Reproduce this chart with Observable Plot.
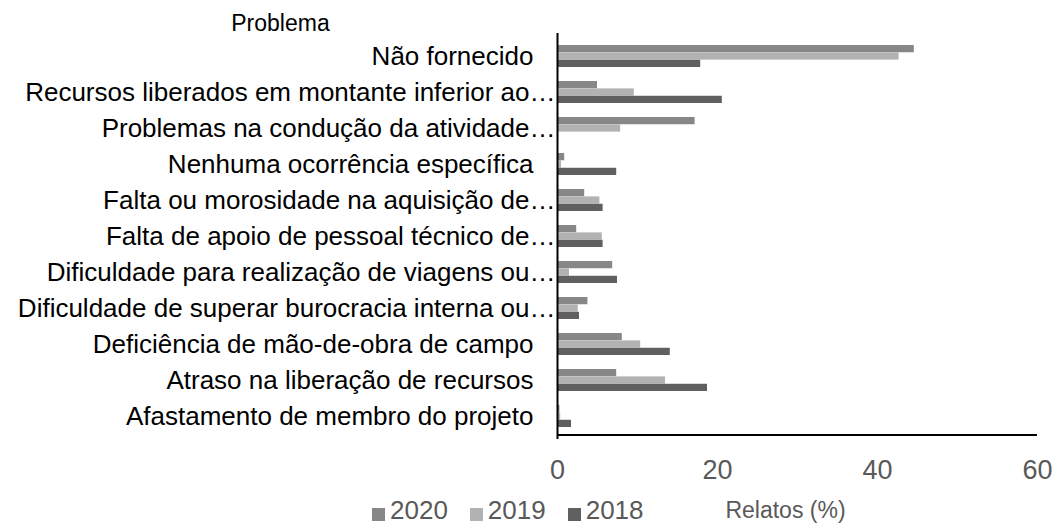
<!DOCTYPE html>
<html>
<head>
<meta charset="utf-8">
<script src="https://cdn.jsdelivr.net/npm/d3@7"></script>
<script src="https://cdn.jsdelivr.net/npm/@observablehq/plot@0.6"></script>
<style>
  html, body { margin: 0; padding: 0; background: #fff; }
  #chart { position: relative; width: 1052px; height: 524px; font-family: "Liberation Sans", Arial, sans-serif; }
  #legend { position: absolute; left: 372px; top: 496px; display: flex; gap: 22px; font-size: 26px; color: #595959; line-height: 28px; }
  #legend span.item { display: inline-flex; align-items: flex-end; }
  #legend span.sw { display: inline-block; width: 13px; height: 13px; margin-right: 5px; margin-bottom: 3px; }
</style>
</head>
<body>
<div id="chart"></div>
<script>
const categories = [
  "Não fornecido",
  "Recursos liberados em montante inferior ao…",
  "Problemas na condução da atividade…",
  "Nenhuma ocorrência específica",
  "Falta ou morosidade na aquisição de…",
  "Falta de apoio de pessoal técnico de…",
  "Dificuldade para realização de viagens ou…",
  "Dificuldade de superar burocracia interna ou…",
  "Deficiência de mão-de-obra de campo",
  "Atraso na liberação de recursos",
  "Afastamento de membro do projeto"
];
const years = ["2020", "2019", "2018"];
const values2020 = [44.6, 5.0, 17.2, 0.9, 3.4, 2.4, 6.9, 3.8, 8.1, 7.4, 0.3];
const values2019 = [42.7, 9.6, 7.9, 0.5, 5.3, 5.6, 1.5, 2.6, 10.4, 13.5, 0.4];
const values2018 = [17.9, 20.6, 0, 7.4, 5.7, 5.7, 7.5, 2.75, 14.1, 18.75, 1.75];
const xTicks = [0, 20, 40, 60];
const colors = ["#878787", "#b2b2b2", "#606060"];
const xLabel = "Relatos (%)";
const yLabel = "Problema";

const seriesValues = [values2020, values2019, values2018];
const data = [];
years.forEach((yr, k) => categories.forEach((c, i) => data.push({category: c, year: yr, value: seriesValues[k][i]})));

const W = 1052, H = 524, mT = 33, mB = 85, mL = 557, mR = 15;
const padInner = 0.4, padOuter = 0.2;
const step = (H - mT - mB) / (categories.length - padInner + 2 * padOuter);
const bw = step * (1 - padInner);
const h = bw / 3;

const truncated = new Set(categories.filter(c => c.endsWith("…")));

const barMarks = years.map((yr, k) => Plot.barX(data.filter(d => d.year === yr), {
  x: "value", y: "category", fill: colors[k],
  insetTop: k * h, insetBottom: (2 - k) * h
}));

const chart = Plot.plot({
  width: W, height: H,
  marginTop: mT, marginBottom: mB, marginLeft: mL, marginRight: mR,
  style: {fontFamily: "'Liberation Sans', Arial, sans-serif", background: "#fff"},
  x: {domain: [0, 60], ticks: xTicks},
  y: {domain: categories, paddingInner: padInner, paddingOuter: padOuter},
  marks: [
    ...barMarks,
    Plot.ruleX([0], {stroke: "#000", strokeWidth: 2}),
    Plot.ruleY([categories[categories.length - 1]], {dy: step / 2, stroke: "#000", strokeWidth: 2}),
    Plot.axisX({ticks: xTicks, tickSize: 0, tickPadding: 20, fontSize: 27, color: "#595959", label: null}),
    Plot.axisY({tickSize: 0, tickPadding: 24, fontSize: 26, color: "#000", label: null,
      tickFormat: d => truncated.has(d) ? "" : d}),
    Plot.axisY({tickSize: 0, tickPadding: 2, fontSize: 26, color: "#000", label: null,
      tickFormat: d => truncated.has(d) ? d : ""}),
    Plot.text([yLabel], {frameAnchor: "top-left", dx: -277, dy: -10, fontSize: 23, fill: "#000", textAnchor: "middle", lineAnchor: "middle"}),
    Plot.text([xLabel], {frameAnchor: "bottom", dx: -12, dy: 71, fontSize: 23, fill: "#595959", textAnchor: "middle", lineAnchor: "middle"})
  ]
});

const root = document.getElementById("chart");
root.appendChild(chart);
const legend = document.createElement("div");
legend.id = "legend";
years.forEach((yr, k) => {
  const item = document.createElement("span");
  item.className = "item";
  const sw = document.createElement("span");
  sw.className = "sw";
  sw.style.background = colors[k];
  item.appendChild(sw);
  item.appendChild(document.createTextNode(yr));
  legend.appendChild(item);
});
root.appendChild(legend);
</script>
</body>
</html>
